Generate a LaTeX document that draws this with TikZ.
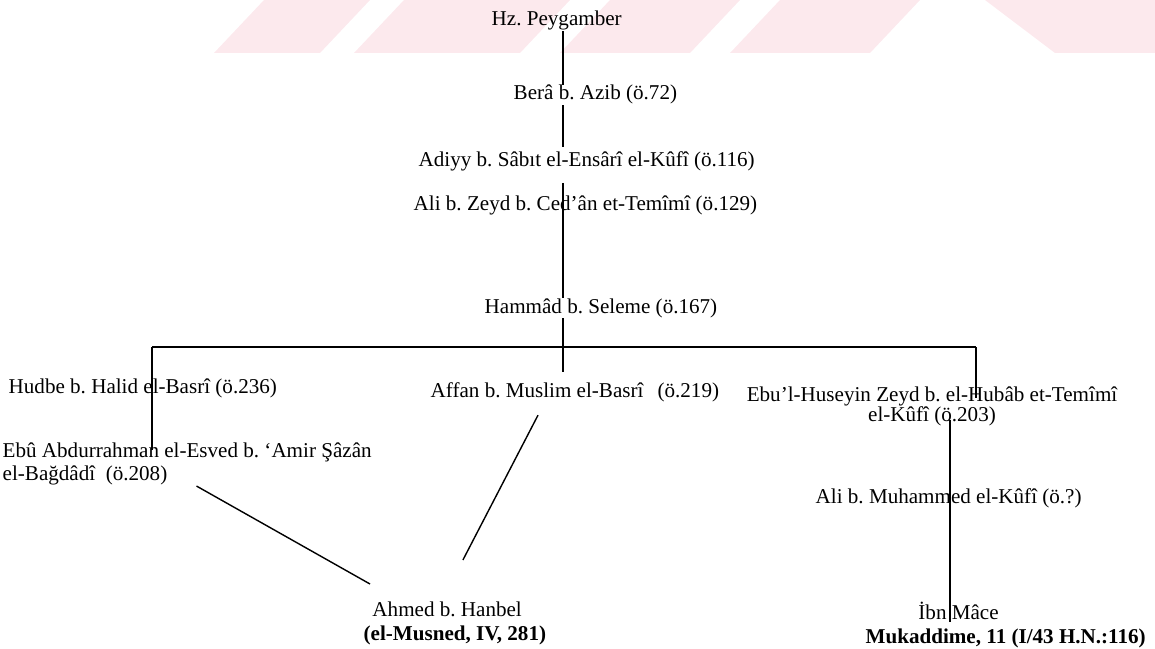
\documentclass[tikz,border=0pt]{standalone}
\usepackage{fontspec}
\setmainfont{Liberation Serif}
\definecolor{filigran}{RGB}{252,233,237}
\frenchspacing
\begin{document}
\begin{tikzpicture}[x=0.03cm,y=-0.03cm,line width=1.2pt,
  rawi/.style={inner sep=0pt,anchor=base west,font=\fontsize{18}{20}\selectfont},
  cokrawi/.style={inner sep=0pt,font=\fontsize{18}{20}\selectfont}]
\useasboundingbox (0,0) rectangle (1155,649);
\fill[filigran] (214,53)--(264,0)--(370,0)--(320,53)--cycle;
\fill[filigran] (354,53)--(404,0)--(570,0)--(520,53)--cycle;
\fill[filigran] (560,53)--(610,0)--(740,0)--(690,53)--cycle;
\fill[filigran] (730,53)--(780,0)--(920,0)--(870,53)--cycle;
\fill[filigran] (1055,53)--(985,0)--(1155,0)--(1155,53)--cycle;

\node[rawi] (hz) at (491,26) {Hz. Peygamber};
\node[rawi] (bera) at (513,100) {Berâ b. Azib (ö.72)};
\node[rawi] (adiyy) at (418,166) {Adiyy b. Sâbıt el-Ensârî el-Kûfî (ö.116)};
\node[rawi] (alizeyd) at (413,210) {Ali b. Zeyd b. Ced’ân et-Temîmî (ö.129)};
\node[rawi] (hammad) at (484,313) {Hammâd b. Seleme (ö.167)};
\node[rawi] (hudbe) at (8,393) {Hudbe b. Halid el-Basrî (ö.236)};
\node[rawi] (affan) at (430,397) {Affan b. Muslim el-Basrî\hspace{12pt}(ö.219)};
\node[cokrawi,anchor=north,align=center,font=\fontsize{18}{16.5}\selectfont] (ebulh) at (932,386)
  {Ebu’l-Huseyin Zeyd b. el-Hubâb et-Temîmî\\el-Kûfî (ö.203)};
\node[cokrawi,anchor=north west,align=left] (ebuabd) at (2,442)
  {Ebû Abdurrahman el-Esved b. ‘Amir Şâzân\\el-Bağdâdî~ (ö.208)};
\node[rawi] (alimuh) at (815,503) {Ali b. Muhammed el-Kûfî (ö.?)};
\node[cokrawi,anchor=north west,align=left,font=\fontsize{18}{21}\selectfont] (ahmed) at (363,601)
  {\hspace*{7.5pt}Ahmed b. Hanbel\\\textbf{(el-Musned, IV, 281)}};
\node[cokrawi,anchor=north west,align=left,font=\fontsize{18}{20.5}\selectfont] (ibn) at (865,601)
  {\hspace*{45pt}İbn Mâce\\\textbf{Mukaddime, 11 (I/43 H.N.:116)}};

\coordinate (kok) at (563,0);
\coordinate (sol) at (152,347);
\coordinate (sag) at (976,347);
\coordinate (ibnhat) at (950,0);
\draw (kok |- hz.south) -- (kok |- bera.north);
\draw[shorten >=3pt] (kok |- bera.south) -- (kok |- adiyy.north);
\draw[shorten <=10pt] (kok |- adiyy.south) -- (kok |- hammad.north);
\draw[shorten >=8pt] (kok |- hammad.south) -- (kok |- affan.north);
\draw (sol) -- (sag);
\draw[shorten >=-7pt] (sol) -- (sol |- ebuabd.north);
\draw[shorten >=-10pt] (sag) -- (sag |- ebulh.north);
\draw[shorten <=-6pt,shorten >=-18pt] (ibnhat |- ebulh.south) -- (ibnhat |- ibn.north);
\draw ([xshift=8pt]ebuabd.south) -- ([shift={(7,-17)}]ahmed.north west);
\draw ([shift={(108,13)}]affan.south west) -- ([shift={(8,-41)}]ahmed.north);
\end{tikzpicture}
\end{document}
